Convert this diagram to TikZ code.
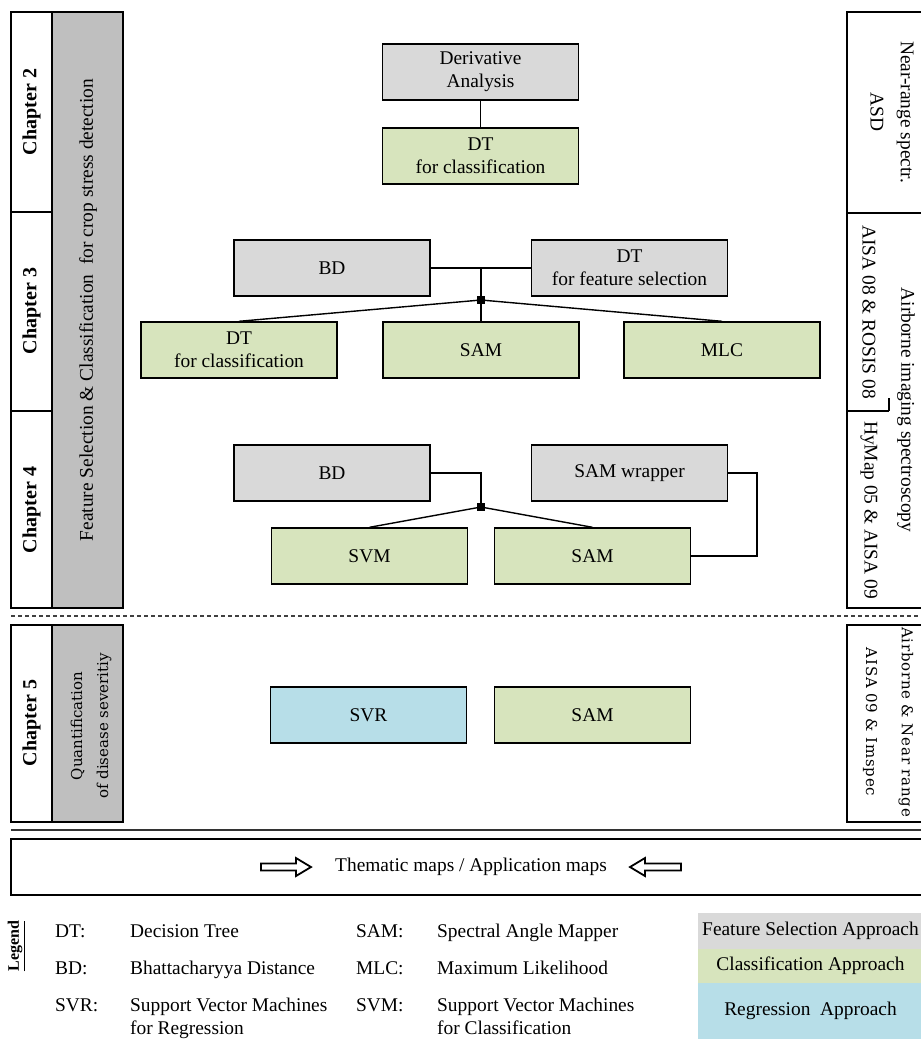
\documentclass[tikz,border=0pt]{standalone}
\usepackage{fontspec}
\setmainfont{Liberation Serif}
\newfontfamily\altserif{DejaVu Serif}
\newfontfamily\altwide[LetterSpace=5]{DejaVu Serif}
\definecolor{fsgray}{HTML}{D9D9D9}
\definecolor{colgray}{HTML}{BFBFBF}
\definecolor{clgreen}{HTML}{D7E4BD}
\definecolor{rgblue}{HTML}{B7DEE8}
\newcommand\fsz{\fontsize{19.4}{23}\selectfont}
\tikzset{
  box/.style={draw=black, line width=1.4pt, minimum width=196pt, minimum height=56pt, inner sep=0pt, align=center, font=\fsz},
  fsbox/.style={box, fill=fsgray},
  clbox/.style={box, fill=clgreen},
  rgbox/.style={box, fill=rgblue},
  conn/.style={line width=1.4pt},
  junc/.style={fill=black, minimum size=8pt, inner sep=0pt},
  frame/.style={draw=black, line width=1.4pt},
  chap/.style={font=\fontsize{20}{24}\selectfont\bfseries, rotate=90},
  vlab/.style={font=\fsz, rotate=90},
  rlab/.style={font=\fsz, rotate=-90},
  legtxt/.style={font=\fsz, anchor=base west, inner sep=0pt},
  legbox/.style={minimum width=225pt, inner sep=0pt, font=\fsz},
  harrow/.style={draw=black, line width=1.8pt, fill=white, line join=miter}
}
\begin{document}
\begin{tikzpicture}[x=1pt,y=-1pt]
\useasboundingbox (0,0) rectangle (921,1039);

% ---------- left column chapters 2-4
\draw[frame, fill=white] (11,12) rectangle (52,608);
\draw[frame, fill=colgray] (52,12) rectangle (123,608);
\draw[frame] (11,212) -- (52,212);
\draw[frame] (11,411) -- (52,411);
\node[chap] (ch2) at (31.5,112) {Chapter 2};
\node[chap] (ch3) at (31.5,311) {Chapter 3};
\node[chap] (ch4) at (31.5,510) {Chapter 4};
\node[vlab] (fsc) at (88,310) {Feature Selection \& Classification\ \ for crop stress detection};

% ---------- right column chapters 2-4
\draw[frame] (847,12) rectangle (926,608);
\draw[frame] (847,213) -- (926,213);
\draw[frame] (847,411) -- (889,411);
\draw[frame] (889,398) -- (889,411);
\node[rlab] (nrs) at (905,112) {Near-range spectr.};
\node[rlab] (asd) at (877,112) {ASD};
\node[rlab] (aisa08) at (869,312) {AISA 08 \& ROSIS 08};
\node[rlab] (hymap) at (869,510) {HyMap 05 \& AISA 09};
\node[rlab] (airb) at (906,410) {Airborne imaging spectroscopy};

% ---------- chapter 2
\node[fsbox] (deriv) at (480.5,72) {Derivative\\Analysis};
\node[clbox] (dtc2) at (480.5,156) {DT\\for classification};
\draw[conn] (deriv) -- (dtc2);

% ---------- chapter 3
\node[fsbox] (bd3) at (332,268) {BD};
\node[fsbox] (dtfs) at (629.5,268) {DT\\for feature selection};
\node[clbox] (dtc3) at (239,350) {DT\\for classification};
\node[clbox] (sam3) at (481,350) {SAM};
\node[clbox] (mlc) at (722,350) {MLC};
\coordinate (t3) at (481,268);
\node[junc] (j3) at (481,300) {};
\draw[conn] (bd3) -- (dtfs);
\draw[conn] (t3) -- (j3.center);
\draw[conn] (j3.center) -- (dtc3.north);
\draw[conn] (j3.center) -- (sam3.north);
\draw[conn] (j3.center) -- (mlc.north);

% ---------- chapter 4
\node[fsbox] (bd4) at (332,473) {BD};
\node[fsbox] (samw) at (629.5,473) {SAM wrapper};
\node[clbox] (svm) at (369.5,556) {SVM};
\node[clbox] (sam4) at (592.5,556) {SAM};
\node[junc] (j4) at (481,507) {};
\draw[conn] (bd4.east) -| (j4.center);
\draw[conn] (j4.center) -- (svm.north);
\draw[conn] (j4.center) -- (sam4.north);
\coordinate (w4) at (757,473);
\draw[conn] (samw.east) -- (w4) |- (sam4.east);

% ---------- dashed separator
\draw[line width=1.2pt, black!75, dash pattern=on 4pt off 3pt] (11,616) -- (921,616);

% ---------- chapter 5
\draw[frame, fill=white] (11,625) rectangle (52,822);
\draw[frame, fill=colgray] (52,625) rectangle (123,822);
\node[chap] (ch5) at (31.5,723) {Chapter 5};
\node[rotate=90, font=\altserif\fontsize{15}{26}\selectfont, align=center] (quant) at (91,726) {Quantification\\of disease severitiy};
\draw[frame] (847,625) rectangle (926,822);
\node[rotate=-90, font=\altwide\fontsize{15}{18}\selectfont] (anr) at (906,722) {Airborne \& Near range};
\node[rotate=-90, font=\altwide\fontsize{15}{18}\selectfont] (aisa09) at (870,722) {AISA 09 \& Imspec};
\node[rgbox] (svr) at (368.5,715) {SVR};
\node[clbox] (sam5) at (592.5,715) {SAM};

% ---------- separator and thematic maps
\draw[line width=1.6pt, black!80] (11,830) -- (926,830);
\draw[frame] (11,839) rectangle (926,895);
\node[font=\fsz] (them) at (471,867) {Thematic maps / Application maps};
\draw[harrow] (261,863.5) -- (296,863.5) -- (296,858) -- (311,867) -- (296,876) -- (296,870.5) -- (261,870.5) -- cycle;
\draw[harrow] (681,863.5) -- (645,863.5) -- (645,858) -- (630,867) -- (645,876) -- (645,870.5) -- (681,870.5) -- cycle;

% ---------- legend
\node[rotate=90, font=\bfseries\fontsize{16}{18}\selectfont] (leg) at (16,946) {\underline{Legend}};
\node[legtxt] (kdt) at (55,937) {DT:};
\node[legtxt] (vdt) at (130,937) {Decision Tree};
\node[legtxt] (kbd) at (55,974) {BD:};
\node[legtxt] (vbd) at (130,974) {Bhattacharyya Distance};
\node[legtxt] (ksvr) at (55,1011) {SVR:};
\node[legtxt] (vsvr) at (130,1011) {Support Vector Machines};
\node[legtxt] (vsvr2) at (130,1034) {for Regression};
\node[legtxt] (ksam) at (356,937) {SAM:};
\node[legtxt] (vsam) at (437,937) {Spectral Angle Mapper};
\node[legtxt] (kmlc) at (356,974) {MLC:};
\node[legtxt] (vmlc) at (437,974) {Maximum Likelihood};
\node[legtxt] (ksvm) at (356,1011) {SVM:};
\node[legtxt] (vsvm) at (437,1011) {Support Vector Machines};
\node[legtxt] (vsvm2) at (437,1034) {for Classification};
\node[legbox, fill=fsgray, minimum height=36pt] (lfs) at (810.5,931) {Feature Selection Approach};
\node[legbox, fill=clgreen, minimum height=34pt] (lcl) at (810.5,966) {Classification Approach};
\node[legbox, fill=rgblue, minimum height=56pt] (lrg) at (810.5,1011) {Regression\ \ Approach};
\end{tikzpicture}
\end{document}
